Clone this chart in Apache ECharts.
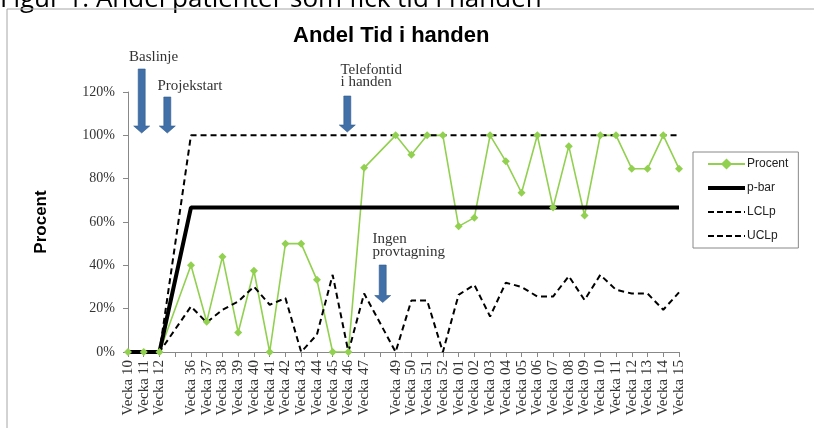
<!DOCTYPE html>
<html>
<head>
<meta charset="utf-8">
<script src="https://cdn.jsdelivr.net/npm/echarts@6/dist/echarts.min.js"></script>
<style>
  html, body { margin: 0; padding: 0; background: #fff; }
  #chart { width: 814px; height: 428px; }
</style>
</head>
<body>
<div id="chart"></div>
<script>
// kategorier (tomma platser = veckor utan provtagning)
const weeks = ['Vecka 10', 'Vecka 11', 'Vecka 12', '',
  'Vecka 36', 'Vecka 37', 'Vecka 38', 'Vecka 39', 'Vecka 40', 'Vecka 41',
  'Vecka 42', 'Vecka 43', 'Vecka 44', 'Vecka 45', 'Vecka 46', 'Vecka 47', '',
  'Vecka 49', 'Vecka 50', 'Vecka 51', 'Vecka 52',
  'Vecka 01', 'Vecka 02', 'Vecka 03', 'Vecka 04', 'Vecka 05', 'Vecka 06', 'Vecka 07',
  'Vecka 08', 'Vecka 09', 'Vecka 10', 'Vecka 11', 'Vecka 12', 'Vecka 13', 'Vecka 14', 'Vecka 15']

const procent = [0, 0, 0, null,
  40, 14, 44, 9, 37.5, 0, 50, 50, 33.3, 0, 0, 85, null,
  100, 91, 100, 100,
  58, 62, 100, 88, 73.5, 100, 66.7, 95, 63, 100, 100, 84.6, 84.6, 100, 84.6]

const pbar = [0, 0, 0, null,
  66.7, 66.7, 66.7, 66.7, 66.7, 66.7, 66.7, 66.7, 66.7, 66.7, 66.7, 66.7, null,
  66.7, 66.7, 66.7, 66.7,
  66.7, 66.7, 66.7, 66.7, 66.7, 66.7, 66.7, 66.7, 66.7, 66.7, 66.7, 66.7, 66.7, 66.7, 66.7]

const lclp = [0, 0, 0, null,
  21, 13.6, 19.5, 23.3, 30.2, 21.8, 24.9, 0, 8, 35.6, 0, 27, null,
  0, 23.8, 23.8, 0,
  26.4, 31, 16.4, 32, 30, 25.6, 25.6, 35, 24, 35.6, 28.7, 27, 27, 19.5, 27.5]

const uclp = [0, 0, 0, null,
  100, 100, 100, 100, 100, 100, 100, 100, 100, 100, 100, 100, null,
  100, 100, 100, 100,
  100, 100, 100, 100, 100, 100, 100, 100, 100, 100, 100, 100, 100, 100, 100]

const yTicks = [0, 20, 40, 60, 80, 100, 120]

const serif = '"Liberation Serif", "DejaVu Serif", serif'
const sans = '"Liberation Sans", Arial, sans-serif'
const arrowColor = '#4170a8'

function arrow(cx, y1, y2) {
  return {
    type: 'polygon',
    shape: { points: [[cx - 3.5, y1], [cx + 3.5, y1], [cx + 3.5, y2 - 7], [cx + 8, y2 - 7],
      [cx, y2], [cx - 8, y2 - 7], [cx - 3.5, y2 - 7]] },
    style: { fill: arrowColor, stroke: '#2f5a8c', lineWidth: 0.6 }
  }
}
function note(x, y, text) {
  return {
    type: 'text', x: x, y: y,
    style: { text: text, font: '15px ' + serif, fill: '#333', verticalAlign: 'middle', lineHeight: 12.5 }
  }
}

const chart = echarts.init(document.getElementById('chart'))
const option = {
  animation: false,
  title: {
    text: 'Andel Tid i handen',
    left: 288, top: 20,
    textStyle: { fontFamily: sans, fontWeight: 'bold', fontSize: 22, color: '#000' }
  },
  legend: {
    orient: 'vertical',
    left: 693, top: 152,
    padding: [6, 10, 6, 13],
    itemGap: 12,
    itemWidth: 37, itemHeight: 14,
    borderColor: '#888', borderWidth: 1,
    textStyle: { fontFamily: sans, fontSize: 12, color: '#222', padding: [0, 0, 0, -3] },
    data: [
      { name: 'Procent' },
      { name: 'p-bar', itemStyle: { opacity: 0 }, lineStyle: { width: 4 } },
      { name: 'LCLp', itemStyle: { opacity: 0 }, lineStyle: { width: 2, type: [6, 3] } },
      { name: 'UCLp', itemStyle: { opacity: 0 }, lineStyle: { width: 2, type: [6, 3] } }
    ]
  },
  grid: { left: 128, right: 135, top: 92, bottom: 76 },
  xAxis: {
    type: 'category',
    data: weeks,
    boundaryGap: false,
    axisLine: { lineStyle: { color: '#888' } },
    axisTick: { interval: 0, length: 5, lineStyle: { color: '#888' } },
    axisLabel: { interval: 0, rotate: 90, margin: 8, fontFamily: serif, fontSize: 15, color: '#333' }
  },
  yAxis: {
    type: 'value',
    min: yTicks[0], max: yTicks[yTicks.length - 1], interval: 20,
    name: 'Procent',
    nameLocation: 'middle',
    nameGap: 78,
    nameTextStyle: { fontFamily: sans, fontWeight: 'bold', fontSize: 17, color: '#000' },
    axisLine: { show: true, lineStyle: { color: '#888' } },
    axisTick: { show: true, length: 5, lineStyle: { color: '#888' } },
    splitLine: { show: false },
    axisLabel: { formatter: '{value}%', margin: 13, fontFamily: serif, fontSize: 14, color: '#333' }
  },
  series: [
    {
      name: 'Procent', type: 'line', data: procent, connectNulls: true,
      symbol: 'diamond', symbolSize: 8,
      itemStyle: { color: '#92d050' },
      lineStyle: { color: '#92d050', width: 1.6 }
    },
    {
      name: 'p-bar', type: 'line', data: pbar, connectNulls: true, symbol: 'none',
      itemStyle: { color: '#000' },
      lineStyle: { color: '#000', width: 4 }
    },
    {
      name: 'LCLp', type: 'line', data: lclp, connectNulls: true, symbol: 'none',
      itemStyle: { color: '#000' },
      lineStyle: { color: '#000', width: 2, type: [6, 4] }
    },
    {
      name: 'UCLp', type: 'line', data: uclp, connectNulls: true, symbol: 'none',
      itemStyle: { color: '#000' },
      lineStyle: { color: '#000', width: 2, type: [6, 4] }
    }
  ],
  graphic: [
    {
      type: 'text', x: 0, y: 13,
      style: { text: 'Figur 1. Andel patienter som fick tid i handen', font: '26px "Open Sans", ' + sans,
        fill: '#000', verticalAlign: 'bottom' }
    },
    {
      type: 'rect', shape: { x: 7, y: 9, width: 830, height: 440 },
      style: { fill: 'none', stroke: '#a6a6a6', lineWidth: 1 }
    },
    note(129, 57, 'Baslinje'),
    arrow(141.7, 69, 133),
    note(157.5, 86, 'Projekstart'),
    arrow(167.3, 97, 133),
    note(340.5, 76, 'Telefontid\ni handen'),
    arrow(347.3, 96, 132),
    note(372.5, 245.5, 'Ingen\nprovtagning'),
    arrow(382.7, 265, 302.5)
  ]
}
chart.setOption(option)
</script>
</body>
</html>
